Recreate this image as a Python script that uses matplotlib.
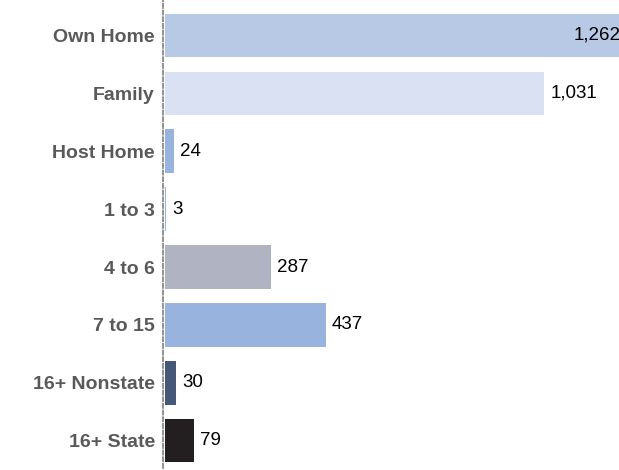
import matplotlib
matplotlib.use("Agg")
import matplotlib.pyplot as plt

categories = ["Own Home", "Family", "Host Home", "1 to 3", "4 to 6", "7 to 15", "16+ Nonstate", "16+ State"]
values = [1262, 1031, 24, 3, 287, 437, 30, 79]
labels = ["1,262", "1,031", "24", "3", "287", "437", "30", "79"]
colors = ["#b8c9e6", "#dae1f2", "#98b3dd", "#98b3dd", "#b0b3c2", "#98b3dd", "#455877", "#231f20"]

plt.rcParams['font.family'] = ['Liberation Sans', 'DejaVu Sans']

fig = plt.figure(figsize=(6.19, 4.70), dpi=100)
ax = fig.add_axes([165/619, 2/470, 1 - 165/619, 468/470])

for s in ['top', 'right', 'bottom']:
    ax.spines[s].set_visible(False)
ax.spines['left'].set_position(('outward', 1.2))
ax.spines['left'].set_linestyle((0, (2.5, 1.5)))
ax.spines['left'].set_color('#7f7f7f')
ax.spines['left'].set_linewidth(1.2)
ax.spines['left'].set_zorder(3)

y = list(range(len(categories)))
ax.barh(y, values, height=0.75, color=colors, zorder=2)
XMAX = 1235
ax.set_xlim(0, XMAX)
ax.set_ylim(len(categories) - 0.53, -0.61)

ax.set_yticks(y)
ax.set_yticklabels(categories, fontsize=14, fontweight='bold', color='#595959')
ax.tick_params(axis='y', length=0, pad=6)
ax.set_xticks([])

for yi, v, lab in zip(y, values, labels):
    if v + 60 > XMAX:
        ax.annotate(lab, xy=(XMAX, yi), xytext=(1, 0), textcoords='offset points',
                    ha='right', va='center', fontsize=13.5, color='black',
                    annotation_clip=False)
    else:
        ax.annotate(lab, xy=(v, yi), xytext=(4.5, 0), textcoords='offset points',
                    ha='left', va='center', fontsize=13.5, color='black')

fig.savefig("out.png", dpi=100)
